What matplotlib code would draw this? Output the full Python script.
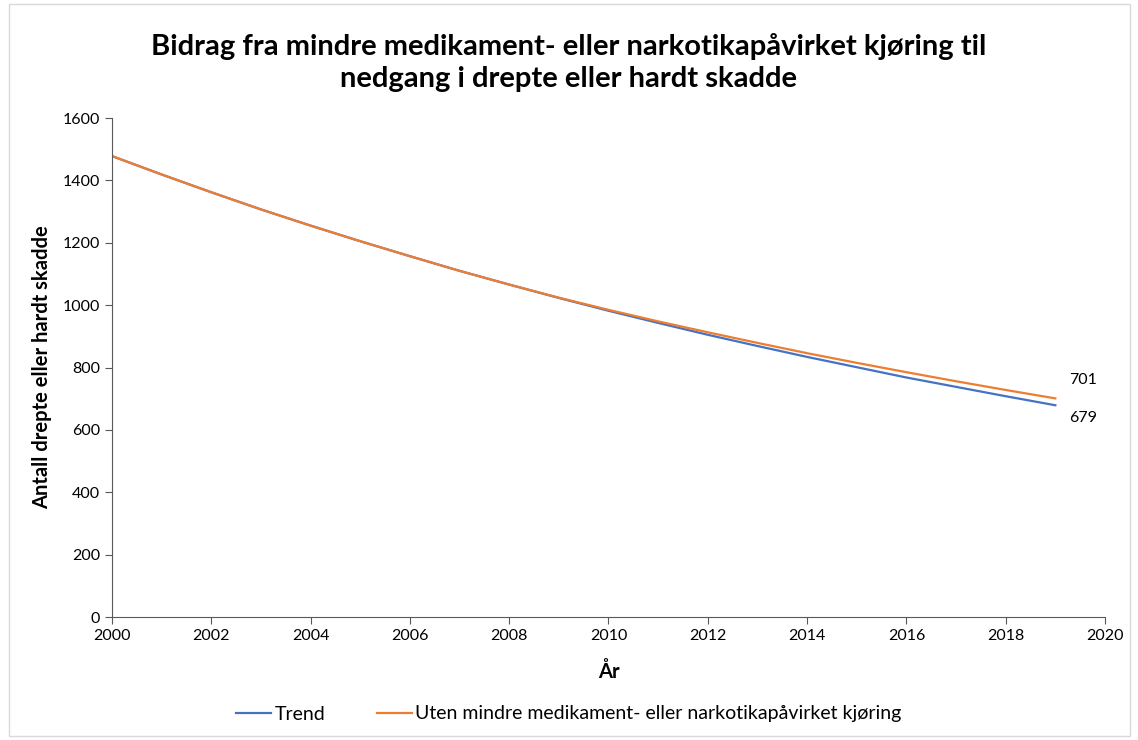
import numpy as np
from matplotlib import pyplot as plt
from matplotlib.patches import Rectangle

plt.rcParams['font.family'] = ['Lato', 'DejaVu Sans']

# data
years = np.arange(2000, 2020)
trend = [1478, 1419, 1362, 1307, 1255, 1205, 1157, 1110, 1066, 1023,
         982, 943, 905, 869, 834, 801, 768, 738, 708, 679]
uten = [1478, 1419, 1362, 1307, 1255, 1205, 1157, 1110, 1066, 1024,
        985, 948, 913, 879, 846, 815, 785, 756, 728, 701]
labels = ['Trend', 'Uten mindre medikament- eller narkotikapåvirket kjøring']

fig = plt.figure(figsize=(11.38, 7.4), dpi=100)
ax = fig.add_axes([0.0984, 0.1662, 0.8726, 0.6743])

ax.plot(years, trend, color='#4472C4', lw=1.6, label=labels[0])
ax.plot(years, uten, color='#ED7D31', lw=1.6, label=labels[1])

# end labels
ax.annotate(str(uten[-1]), (years[-1], uten[-1]), xytext=(10, 13),
            textcoords='offset points', fontsize=11.5, va='center')
ax.annotate(str(trend[-1]), (years[-1], trend[-1]), xytext=(10, -9),
            textcoords='offset points', fontsize=11.5, va='center')

ax.set_xlim(2000, 2020)
ax.set_ylim(0, 1600)
ax.set_xticks(np.arange(2000, 2021, 2))
ax.set_yticks(np.arange(0, 1601, 200))
for s in ['top', 'right']:
    ax.spines[s].set_visible(False)
for s in ['left', 'bottom']:
    ax.spines[s].set_color('#595959')
ax.tick_params(direction='out', length=5, color='#595959', labelsize=11.5)
ax.set_xlabel('År', fontsize=14.5, fontweight='bold', labelpad=14)
ax.set_ylabel('Antall drepte eller hardt skadde', fontsize=14.5, fontweight='bold', labelpad=8)

fig.suptitle('Bidrag fra mindre medikament- eller narkotikapåvirket kjøring til\nnedgang i drepte eller hardt skadde',
             fontsize=21, fontweight='bold', y=0.955, linespacing=1.28)

fig.legend(loc='lower center', bbox_to_anchor=(0.5, 0.0), ncol=2, frameon=False,
           fontsize=14, handlelength=1.8, handletextpad=0.2, columnspacing=2.6)

fig.patches.append(Rectangle((0.008, 0.005), 0.985, 0.99, transform=fig.transFigure,
                             fill=False, edgecolor='#D9D9D9', lw=1))

plt.savefig('out.png', dpi=100)
